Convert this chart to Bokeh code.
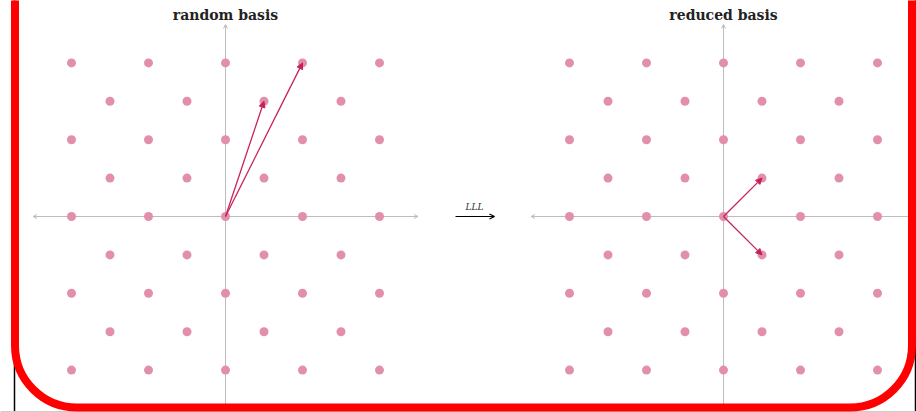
from bokeh.plotting import figure
from bokeh.models import Range1d, Arrow, OpenHead, NormalHead, BoxAnnotation, Span
from bokeh.embed import file_html
from bokeh.resources import INLINE
from bokeh.core.properties import value

# ---- data ----
row_y = [4, 3, 2, 1, 0, -1, -2, -3, -4]
even_row_x = [-4, -2, 0, 2, 4]
odd_row_x = [-3, -1, 1, 3]
random_basis = [(1, 3), (2, 4)]
reduced_basis = [(1, 1), (1, -1)]
titles = ["random basis", "reduced basis"]
map_label = "LLL"

# ---- layout constants ----
W, H = 916, 412
SX, SY = 38.5, 38.4          # pixels per unit
OX, OY = 225, 216            # origin of left panel in pixels
OFFSET = (723 - OX) / SX     # right panel shift in units
AXIS_HALF = 5

def px2x(px):
    return (px - OX) / SX

def px2y(py):
    return (OY - py) / SY

POINT_COLOR = "#e28fad"
ARROW_COLOR = "#c8205a"
AXIS_COLOR = "#bdbdbd"

p = figure(width=W, height=H, output_backend="svg", toolbar_location=None,
           x_range=Range1d(px2x(0), px2x(W)), y_range=Range1d(px2y(H), px2y(0)),
           min_border=0, outline_line_color=None)
p.axis.visible = False
p.grid.visible = False
p.background_fill_color = "white"

for k, (title, basis) in enumerate(zip(titles, [random_basis, reduced_basis])):
    off = k * OFFSET
    # axes
    p.add_layout(Arrow(x_start=off - AXIS_HALF, y_start=0, x_end=off + AXIS_HALF, y_end=0,
                       line_color=AXIS_COLOR, line_width=1, level="underlay",
                       start=OpenHead(size=4, line_color=AXIS_COLOR, line_width=1),
                       end=OpenHead(size=4, line_color=AXIS_COLOR, line_width=1)))
    p.add_layout(Arrow(x_start=off, y_start=-AXIS_HALF - 0.6, x_end=off, y_end=AXIS_HALF,
                       line_color=AXIS_COLOR, line_width=1, level="underlay",
                       start=None,
                       end=OpenHead(size=4, line_color=AXIS_COLOR, line_width=1)))
    # lattice points
    xs, ys = [], []
    for yy in row_y:
        row = even_row_x if yy % 2 == 0 else odd_row_x
        for xx in row:
            xs.append(xx + off)
            ys.append(yy)
    p.scatter(xs, ys, size=9, fill_color=POINT_COLOR, line_color=None)
    # basis vectors
    for bx, by in basis:
        p.add_layout(Arrow(x_start=off, y_start=0, x_end=off + bx, y_end=by,
                           line_color=ARROW_COLOR, line_width=1.3,
                           end=NormalHead(size=6, fill_color=ARROW_COLOR, line_color=ARROW_COLOR,
                                          line_width=1)))
    # title
    p.text(x=[off], y=[px2y(14)], text=[title], text_align="center", text_baseline="middle",
           text_font=value("DejaVu Serif"), text_font_style="bold", text_font_size="14px",
           text_color="#222222")

# LLL map arrow
p.add_layout(Arrow(x_start=px2x(455), y_start=0, x_end=px2x(494), y_end=0,
                   line_color="black", line_width=1.2,
                   end=OpenHead(size=5, line_color="black", line_width=1.2)))
p.text(x=[px2x(474)], y=[px2y(211)], text=[map_label], text_align="center",
       text_baseline="bottom", text_font=value("DejaVu Serif"), text_font_style="italic",
       text_font_size="9px", text_color="#333333")

# outer frames
p.add_layout(BoxAnnotation(left=px2x(14), right=px2x(915), bottom=px2y(420), top=px2y(-50),
                           fill_alpha=0, line_color="black", line_alpha=1, line_width=1.5))
p.add_layout(Span(location=px2y(411), dimension="width", line_color="#cccccc", line_width=1))
p.add_layout(BoxAnnotation(left=px2x(14.5), right=px2x(911.5), bottom=px2y(407), top=px2y(-100),
                           fill_alpha=0, line_color="#ff0000", line_alpha=1, line_width=8,
                           border_radius=62))

open("out.html", "w").write(file_html(p, INLINE))
